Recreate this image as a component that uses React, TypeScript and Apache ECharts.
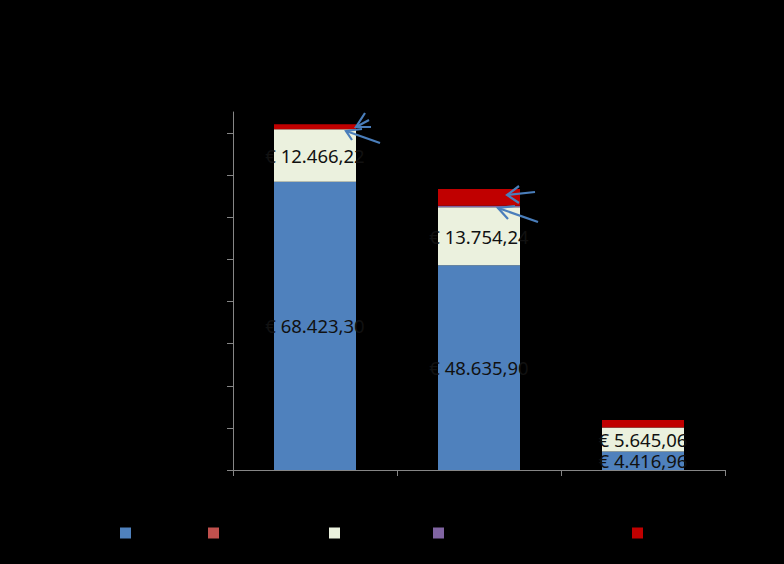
import React, { useEffect, useRef } from "react";
import * as echarts from "echarts";

const categories = ["1", "2", "3"];
const seriesNames = ["Serie 1", "Serie 2", "Serie 3", "Serie 4", "Serie 5"];
const seriesColors = ["#4F81BD", "#C0504D", "#EBF1DE", "#8064A2", "#C00000"];
const blueValues = [68423.3, 48635.9, 4416.96];
const darkRedValues = [0, 0, 0];
const creamValues = [12466.22, 13754.24, 5645.06];
const purpleValues = [0, 350, 0];
const redValues = [1200, 4000, 1800];
const yTicks = [0, 10000, 20000, 30000, 40000, 50000, 60000, 70000, 80000];
const legendLefts = [120, 208, 329, 433, 632];

function fmtEuro(v: number): string {
  const fixed = v.toFixed(2);
  const [intPart, dec] = fixed.split(".");
  const withSep = intPart.replace(/\B(?=(\d{3})+(?!\d))/g, ".");
  return "€ " + withSep + "," + dec;
}

const arrows = [
  { tip: [356, 127], b1: [365, 113], b2: [371, 127], shaft: [369, 120] },
  { tip: [346, 131], b1: [362, 129], b2: [352, 140], shaft: [380, 143] },
  { tip: [507, 195], b1: [519, 186], b2: [519, 203], shaft: [535, 192] },
  { tip: [498, 208], b1: [515, 206], b2: [508, 219], shaft: [538, 222] },
];

export default function App() {
  const ref = useRef<HTMLDivElement>(null);
  useEffect(() => {
    document.body.style.margin = "0";
    document.body.style.background = "#000";
    const chart = echarts.init(ref.current!, null, { renderer: "svg" });
    const allData = [blueValues, darkRedValues, creamValues, purpleValues, redValues];
    const labelled = [true, false, true, false, false];
    const series = allData.map((d, i) => ({
      type: "bar",
      name: seriesNames[i],
      stack: "total",
      barWidth: "50%",
      data: d,
      itemStyle: { color: seriesColors[i] },
      label: labelled[i]
        ? {
            show: true,
            position: "inside",
            color: "#111",
            textBorderWidth: 0,
            textBorderColor: "transparent",
            fontFamily: "Noto Sans",
            fontSize: 18.5,
            lineHeight: 16,
            formatter: (p: any) => fmtEuro(p.value),
          }
        : { show: false },
    }));
    const graphics: any[] = [];
    arrows.forEach((a) => {
      graphics.push({
        type: "polyline",
        z: 100,
        shape: { points: [a.b1, a.tip, a.b2] },
        style: { stroke: "#4A7EBB", lineWidth: 2.2, fill: null },
      });
      graphics.push({
        type: "line",
        z: 100,
        shape: { x1: a.tip[0], y1: a.tip[1], x2: a.shaft[0], y2: a.shaft[1] },
        style: { stroke: "#4A7EBB", lineWidth: 2.2 },
      });
    });
    chart.setOption({
      animation: false,
      backgroundColor: "#000",
      grid: { left: 233, right: 59, top: 112, bottom: 94, outerBoundsMode: "none" },
      legend: legendLefts.map((l, i) => ({
        left: l,
        top: 527,
        data: [seriesNames[i]],
        icon: "rect",
        itemWidth: 11,
        itemHeight: 11,
        padding: 0,
        textStyle: { color: "#000", fontSize: 12 },
      })),
      xAxis: {
        type: "category",
        data: categories,
        axisLine: { show: true, lineStyle: { color: "#868686", width: 1 } },
        axisTick: { show: true, length: 6, lineStyle: { color: "#868686" } },
        axisLabel: { show: false },
      },
      yAxis: {
        type: "value",
        min: 0,
        max: 85000,
        interval: 10000,
        axisLine: { show: true, lineStyle: { color: "#868686", width: 1 } },
        axisTick: {
          show: true,
          length: 6,
          customValues: yTicks,
          lineStyle: { color: "#868686" },
        },
        axisLabel: { show: false },
        splitLine: { show: false },
      },
      series,
      graphic: graphics,
    });
    return () => chart.dispose();
  }, []);
  return <div ref={ref} style={{ width: 784, height: 564 }} />;
}
